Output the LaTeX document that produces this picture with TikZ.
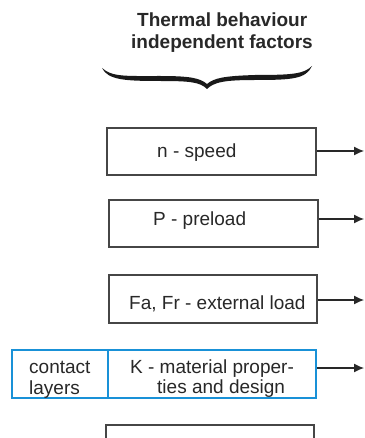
\documentclass[tikz,border=0pt]{standalone}
\usepackage{fontspec}
\setmainfont{Liberation Sans}
\usetikzlibrary{arrows.meta}
\definecolor{boxgray}{RGB}{70,70,70}
\definecolor{txtgray}{RGB}{40,40,40}
\definecolor{layerblue}{RGB}{25,145,215}
\tikzset{
  factorbox/.style={draw=boxgray, line width=1.4pt, rectangle, inner sep=0pt},
  bluebox/.style={draw=layerblue, line width=1.8pt, rectangle, inner sep=0pt},
  lbl/.style={anchor=base west, inner sep=0pt, text=txtgray, font=\fontsize{19}{21}\selectfont},
  ttl/.style={anchor=base west, inner sep=0pt, text=txtgray, font=\fontsize{19}{21}\selectfont\bfseries},
  outarrow/.style={draw=txtgray, line width=1.2pt, -{Latex[length=10pt,width=9pt]}}
}
\begin{document}
\begin{tikzpicture}[x=1pt,y=-1pt]
\clip (0,0) rectangle (364,438);
\fill[white] (0,0) rectangle (364,438);
% title
\node[ttl] (t1) at (137,27) {Thermal behaviour};
\node[ttl] (t2) at (131,49) {independent factors};
% brace
\fill[black!90] (102,68) .. controls (112,77) and (125,76) .. (160,76)
  .. controls (190,76) and (200,78) .. (207,84)
  .. controls (214,78) and (224,76) .. (255,75)
  .. controls (292,75) and (304,74) .. (312,66)
  .. controls (306,79) and (292,80) .. (255,80)
  .. controls (225,80) and (214,82) .. (207,89)
  .. controls (200,82) and (190,81) .. (160,81)
  .. controls (125,81) and (108,80) .. (102,68) -- cycle;
% boxes
\node[factorbox, minimum width=209pt, minimum height=47pt] (b1) at (211.5,151.5) {};
\node[factorbox, minimum width=209pt, minimum height=47pt] (b2) at (213.5,223.5) {};
\node[factorbox, minimum width=208pt, minimum height=48pt] (b3) at (213,299) {};
\node[bluebox, minimum width=96pt, minimum height=48pt] (cl) at (60,374) {};
\node[bluebox, minimum width=208pt, minimum height=48pt] (kb) at (212,374) {};
\node[factorbox, minimum width=208pt, minimum height=40pt] (b5) at (210,445) {};
% labels
\node[lbl] (l1) at (157,158) {n - speed};
\node[lbl] (l2) at (153,225) {P - preload};
\node[lbl] (l3) at (129,309) {Fa, Fr - external load};
\node[lbl] (l4a) at (29,373) {contact};
\node[lbl] (l4b) at (29,394) {layers};
\node[lbl] (l5a) at (130,373) {K - material proper-};
\node[lbl] (l5b) at (157,393) {ties and design};
% arrow ends
\coordinate (e1) at (364,151);
\coordinate (e2) at (364,219);
\coordinate (e3) at (364,300);
\coordinate (e4) at (364,368);
\draw[outarrow] (b1.east |- e1) -- (e1);
\draw[outarrow] (b2.east |- e2) -- (e2);
\draw[outarrow] (b3.east |- e3) -- (e3);
\draw[outarrow] (kb.east |- e4) -- (e4);
\end{tikzpicture}
\end{document}
